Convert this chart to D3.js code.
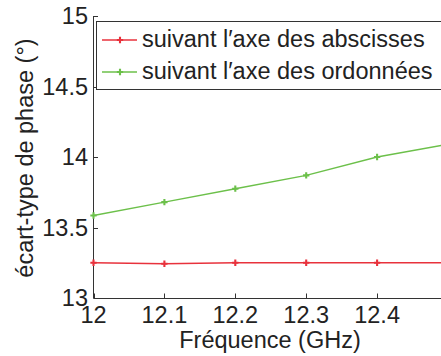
<!DOCTYPE html>
<html><head><meta charset="utf-8">
<script src="https://cdn.jsdelivr.net/npm/d3@7"></script>
<style>body{margin:0;background:#fff}svg{display:block}text{font-family:"Liberation Sans",Arial,sans-serif;fill:#222}</style>
</head><body>
<svg id="c" width="441" height="356"></svg>
<script>
const freq = [12, 12.1, 12.2, 12.3, 12.4, 12.5];
const abscisses = [13.25, 13.243, 13.25, 13.25, 13.25, 13.25];
const ordonnees = [13.585, 13.68, 13.775, 13.87, 14.0, 14.09];
const xTicks = [12, 12.1, 12.2, 12.3, 12.4];
const yTicks = [13, 13.5, 14, 14.5, 15];
const seriesNames = ["suivant l′axe des abscisses", "suivant l′axe des ordonnées"];
const colors = ["#e8323c", "#6cc04a"];

const svg = d3.select("#c");
const x = d3.scaleLinear().domain([12, 12.5]).range([93.5, 448]);
const y = d3.scaleLinear().domain([13, 15]).range([298, 16]);
const FS = 23.5;

const axisCol = "#333";
const ga = svg.append("g");
ga.append("line").attr("x1",93.5).attr("x2",93.5).attr("y1",y(15)).attr("y2",y(13)).attr("stroke",axisCol);
ga.append("line").attr("x1",93.5).attr("x2",460).attr("y1",y(13)+0.5).attr("y2",y(13)+0.5).attr("stroke",axisCol);
yTicks.forEach(t=>{
  ga.append("line").attr("x1",93.5).attr("x2",98).attr("y1",Math.round(y(t))+0.5).attr("y2",Math.round(y(t))+0.5).attr("stroke",axisCol);
  ga.append("text").attr("x",88).attr("y",y(t)).attr("dy","0.35em").attr("text-anchor","end").attr("font-size",FS).text(d3.format("")(t));
});
xTicks.forEach(t=>{
  ga.append("line").attr("x1",Math.round(x(t))+0.5).attr("x2",Math.round(x(t))+0.5).attr("y1",y(13)).attr("y2",y(13)-4.5).attr("stroke",axisCol);
  ga.append("text").attr("x",x(t)).attr("y",323).attr("text-anchor","middle").attr("font-size",FS).text(d3.format("")(t));
});
svg.append("text").attr("x",270).attr("y",348).attr("text-anchor","middle").attr("font-size",FS).text("Fréquence (GHz)");
svg.append("text").attr("transform","translate(33,158) rotate(-90)").attr("text-anchor","middle").attr("font-size",FS).text("écart-type de phase (°)");

const star = d3.symbol().type(d3.symbolCross).size(22);
[abscisses, ordonnees].forEach((vals,i)=>{
  const pts = freq.map((f,j)=>[f,vals[j]]);
  svg.append("path").datum(pts).attr("fill","none").attr("stroke",colors[i]).attr("stroke-width",1.4)
    .attr("d", d3.line().x(d=>x(d[0])).y(d=>y(d[1])));
  svg.selectAll(null).data(pts).enter().append("path")
    .attr("transform",d=>`translate(${x(d[0])},${y(d[1])})`)
    .attr("d",star).attr("fill",colors[i]);
});

const lg = svg.append("g");
lg.append("rect").attr("x",96.5).attr("y",21.5).attr("width",400).attr("height",68).attr("fill","#fff").attr("stroke",axisCol).attr("stroke-width",1);
seriesNames.forEach((n,i)=>{
  const yy = 40 + i*32;
  lg.append("line").attr("x1",102).attr("x2",137).attr("y1",yy).attr("y2",yy).attr("stroke",colors[i]).attr("stroke-width",1.4);
  lg.append("path").attr("transform",`translate(120,${yy})`).attr("d",star).attr("fill",colors[i]);
  lg.append("text").attr("x",142).attr("y",yy+6.8).attr("font-size",FS).text(n);
});
</script>
</body></html>
